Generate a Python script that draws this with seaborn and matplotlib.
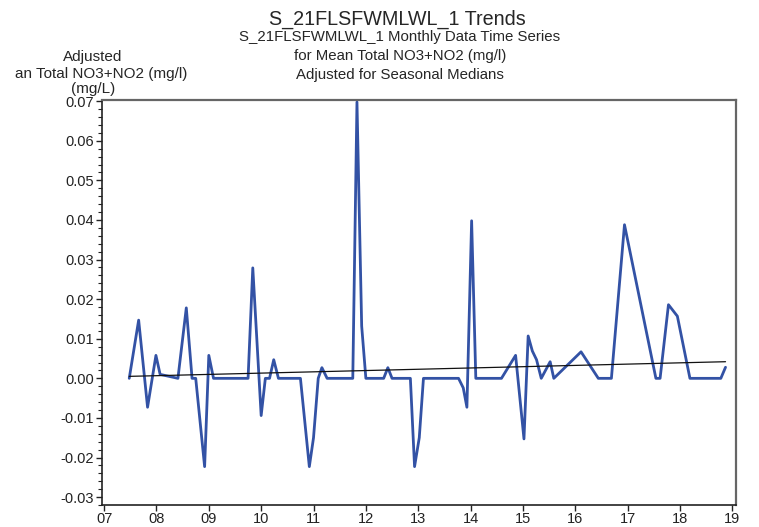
import numpy as np
import pandas as pd
import matplotlib
matplotlib.use("Agg")
import matplotlib.pyplot as plt
import seaborn as sns
from matplotlib.ticker import MultipleLocator

# fechas en años decimales y valores ajustados
fechas = [2007.48, 2007.66, 2007.83, 2007.99, 2008.07, 2008.41, 2008.57, 2008.68, 2008.75, 2008.92,
          2009.00, 2009.09, 2009.75, 2009.84, 2010.00, 2010.08, 2010.16, 2010.24, 2010.33, 2010.75,
          2010.92, 2011.00, 2011.09, 2011.16, 2011.26, 2011.75, 2011.83, 2011.92, 2012.00, 2012.34,
          2012.42, 2012.50, 2012.85, 2012.93, 2013.02, 2013.10, 2013.77, 2013.86, 2013.93, 2014.02,
          2014.10, 2014.59, 2014.86, 2015.02, 2015.10, 2015.18, 2015.26, 2015.35, 2015.52, 2015.59,
          2016.11, 2016.44, 2016.69, 2016.94, 2017.54, 2017.62, 2017.78, 2017.95, 2018.19, 2018.78,
          2018.87]
valores = [0, 0.0147, -0.0073, 0.0058, 0.001, 0, 0.0178, 0, 0, -0.0223,
           0.0058, 0, 0, 0.0279, -0.0094, 0, 0, 0.0047, 0, 0,
           -0.0223, -0.015, 0, 0.0027, 0, 0, 0.0698, 0.0132, 0, 0,
           0.0027, 0, 0, -0.0223, -0.015, 0, 0, -0.0024, -0.0073, 0.0398,
           0, 0, 0.0058, -0.0153, 0.0107, 0.0069, 0.0047, 0, 0.0042, 0,
           0.0067, 0, 0, 0.0388, 0, 0, 0.0186, 0.0157, 0, 0,
           0.0028]

# linea de tendencia (extremos)
tend_x = [2007.48, 2018.87]
tend_y = [0.0005, 0.0042]

anios = list(range(2007, 2020))
etiquetas_anio = ["07", "08", "09", "10", "11", "12", "13", "14", "15", "16", "17", "18", "19"]

sns.set_style("ticks")
plt.rcParams["font.family"] = ["Liberation Sans", "DejaVu Sans"]

df = pd.DataFrame({"fecha": fechas, "valor": valores})
df_tend = pd.DataFrame({"fecha": tend_x, "valor": tend_y})

fig = plt.figure(figsize=(7.59, 5.27), dpi=100)
ax = fig.add_axes([0.1344, 0.0417, 0.8353, 0.7685])

sns.lineplot(data=df, x="fecha", y="valor", ax=ax, color="#3352a5", linewidth=2.0, sort=False)
sns.lineplot(data=df_tend, x="fecha", y="valor", ax=ax, color="#111111", linewidth=0.9)

ax.set_xlim(2006.96, 2019.07)
ax.set_ylim(-0.032, 0.0703)
ax.set_xticks(anios)
ax.set_xticklabels(etiquetas_anio)
ax.set_yticks(np.arange(-0.03, 0.0701, 0.01))
ax.set_yticklabels([f"{v:.2f}" for v in np.arange(-0.03, 0.0701, 0.01)])
ax.yaxis.set_minor_locator(MultipleLocator(0.002))
ax.tick_params(axis="both", which="major", labelsize=10.5, colors="#222222", length=4, width=1)
ax.tick_params(axis="y", which="minor", length=3, width=0.8, colors="#222222")
ax.tick_params(axis="x", pad=1)
ax.tick_params(axis="y", pad=2)
ax.set_xlabel("")
ax.set_ylabel("")

for lado in ["left", "bottom"]:
    ax.spines[lado].set_color("#222222")
    ax.spines[lado].set_linewidth(1.2)
for lado in ["top", "right"]:
    ax.spines[lado].set_visible(True)
    ax.spines[lado].set_color("#666666")
    ax.spines[lado].set_linewidth(1.6)

fig.text(0.523, 0.964, "S_21FLSFWMLWL_1 Trends", ha="center", va="center", fontsize=14.2)
fig.text(0.527, 0.929, "S_21FLSFWMLWL_1 Monthly Data Time Series", ha="center", va="center", fontsize=10.8)
fig.text(0.527, 0.893, "for Mean Total NO3+NO2 (mg/l)", ha="center", va="center", fontsize=10.8)
fig.text(0.527, 0.857, "Adjusted for Seasonal Medians", ha="center", va="center", fontsize=10.8)

fig.text(0.122, 0.892, "Adjusted", ha="center", va="center", fontsize=11)
fig.text(0.0198, 0.860, "an Total NO3+NO2 (mg/l)", ha="left", va="center", fontsize=11)
fig.text(0.123, 0.831, "(mg/L)", ha="center", va="center", fontsize=11)

fig.savefig("out.png", dpi=100)
plt.close(fig)
